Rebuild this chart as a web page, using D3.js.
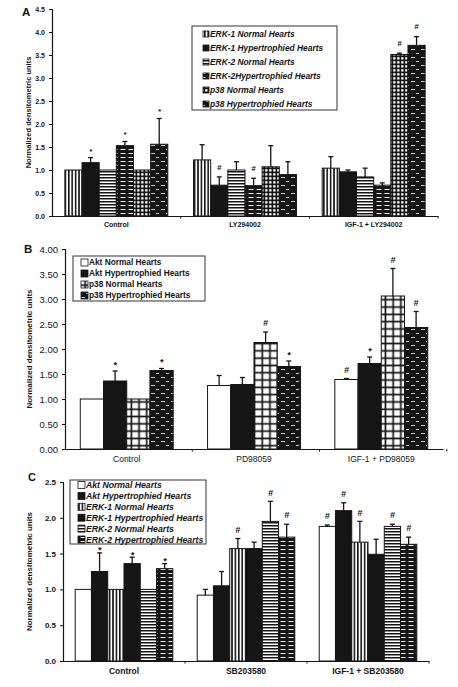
<!DOCTYPE html>
<html><head><meta charset="utf-8">
<script src="https://cdn.jsdelivr.net/npm/d3@7/dist/d3.min.js"></script>
<style>
html,body{margin:0;padding:0;background:#fff;}
svg{display:block;font-family:"Liberation Sans",Arial,sans-serif;}
</style></head>
<body>
<svg id="chart" width="458" height="687"></svg>
<script>
// ---------- Panel A data ----------
const aCategories = ["Control", "LY294002", "IGF-1 + LY294002"];
const aSeries = ["ERK-1 Normal Hearts", "ERK-1 Hypertrophied Hearts", "ERK-2 Normal Hearts", "ERK-2Hypertrophied Hearts", "p38 Normal Hearts", "p38 Hypertrophied Hearts"];
const aValues = [
  [1.00, 1.22, 1.04],
  [1.16, 0.67, 0.96],
  [1.00, 1.00, 0.85],
  [1.53, 0.66, 0.67],
  [1.00, 1.07, 3.51],
  [1.56, 0.90, 3.71]
];
const aErrors = [
  [0.00, 0.33, 0.25],
  [0.11, 0.18, 0.04],
  [0.00, 0.18, 0.19],
  [0.09, 0.16, 0.05],
  [0.00, 0.46, 0.03],
  [0.56, 0.28, 0.19]
];
const aMarks = [
  ["", "", ""],
  ["*", "#", ""],
  ["", "", ""],
  ["*", "#", ""],
  ["", "", "#"],
  ["*", "", "#"]
];
const aTicks = [0, 0.5, 1.0, 1.5, 2.0, 2.5, 3.0, 3.5, 4.0, 4.5];

// ---------- Panel B data ----------
const bCategories = ["Control", "PD98059", "IGF-1 + PD98059"];
const bSeries = ["Akt Normal Hearts", "Akt Hypertrophied Hearts", "p38 Normal Hearts", "p38 Hypertrophied Hearts"];
const bValues = [
  [1.00, 1.27, 1.39],
  [1.36, 1.29, 1.71],
  [1.00, 2.13, 3.06],
  [1.57, 1.65, 2.43]
];
const bErrors = [
  [0.00, 0.20, 0.02],
  [0.20, 0.14, 0.13],
  [0.00, 0.21, 0.55],
  [0.04, 0.11, 0.32]
];
const bMarks = [
  ["", "", "#"],
  ["*", "", "*"],
  ["", "#", "#"],
  ["*", "*", "#"]
];
const bTicks = [0, 0.5, 1.0, 1.5, 2.0, 2.5, 3.0, 3.5, 4.0];

// ---------- Panel C data ----------
const cCategories = ["Control", "SB203580", "IGF-1 + SB203580"];
const cSeries = ["Akt Normal Hearts", "Akt Hypertrophied Hearts", "ERK-1 Normal Hearts", "ERK-1 Hypertrophied Hearts", "ERK-2 Normal Hearts", "ERK-2 Hypertrophied Hearts"];
const cValues = [
  [1.00, 0.92, 1.88],
  [1.25, 1.05, 2.10],
  [1.00, 1.57, 1.66],
  [1.36, 1.57, 1.49],
  [1.00, 1.95, 1.88],
  [1.29, 1.73, 1.63]
];
const cErrors = [
  [0.00, 0.08, 0.02],
  [0.26, 0.20, 0.11],
  [0.00, 0.14, 0.29],
  [0.09, 0.09, 0.21],
  [0.00, 0.28, 0.03],
  [0.07, 0.18, 0.10]
];
const cMarks = [
  ["", "", "#"],
  ["*", "", "#"],
  ["", "#", "#"],
  ["*", "", ""],
  ["", "#", "#"],
  ["*", "#", "#"]
];
const cTicks = [0, 0.5, 1.0, 1.5, 2.0, 2.5];

const yTitle = "Normalized densitometric units";

const svg = d3.select("#chart");
const defs = svg.append("defs");
const INK = "#151515";

// ---------- patterns ----------
function pat(id, w, h, draw) {
  const p = defs.append("pattern").attr("id", id).attr("patternUnits", "userSpaceOnUse")
    .attr("width", w).attr("height", h);
  draw(p);
}
pat("vlines", 3.4, 4, p => {
  p.append("rect").attr("width", 3.4).attr("height", 4).attr("fill", "#fff");
  p.append("rect").attr("x", 0).attr("width", 1.6).attr("height", 4).attr("fill", INK);
});
pat("hlines", 4, 3, p => {
  p.append("rect").attr("width", 4).attr("height", 3).attr("fill", "#fff");
  p.append("rect").attr("y", 0).attr("width", 4).attr("height", 1.5).attr("fill", INK);
});
pat("gridA", 4, 4, p => {
  p.append("rect").attr("width", 4).attr("height", 4).attr("fill", INK);
  p.append("rect").attr("x", 1.2).attr("y", 1.2).attr("width", 2.3).attr("height", 2.3).attr("fill", "#fff");
});
pat("gridB", 7.7, 7.3, p => {
  p.append("rect").attr("width", 7.7).attr("height", 7.3).attr("fill", INK);
  p.append("rect").attr("x", 1.3).attr("y", 1.3).attr("width", 6).attr("height", 5.6).attr("fill", "#fff");
});
pat("dashes", 10, 8, p => {
  p.append("rect").attr("width", 10).attr("height", 8).attr("fill", INK);
  p.append("rect").attr("x", 1).attr("y", 1).attr("width", 4).attr("height", 0.9).attr("fill", "#ddd");
  p.append("rect").attr("x", 6).attr("y", 5).attr("width", 3).attr("height", 0.9).attr("fill", "#ddd");
});
pat("dashes2", 8, 4, p => {
  p.append("rect").attr("width", 8).attr("height", 4).attr("fill", INK);
  p.append("rect").attr("x", 0.5).attr("y", 1).attr("width", 5).attr("height", 1).attr("fill", "#eee");
});

function drawPanel(cfg) {
  const g = svg.append("g");
  const x0 = d3.scaleBand().domain(cfg.categories).range(cfg.xRange).paddingInner(cfg.padIn).paddingOuter(cfg.padOut);
  const x1 = d3.scaleBand().domain(d3.range(cfg.series.length)).range([0, x0.bandwidth()]);
  const y = d3.scaleLinear().domain([0, cfg.ticks[cfg.ticks.length - 1]]).range(cfg.yRange);

  // legend (drawn first so significance marks stay visible)
  const L = cfg.legend;
  g.append("rect").attr("x", L.x).attr("y", L.y).attr("width", L.w).attr("height", L.h)
    .attr("fill", "#fff").attr("stroke", "#333").attr("stroke-width", 1);
  cfg.series.forEach((s, si) => {
    const ly = L.y + L.first + si * L.gap;
    g.append("rect").attr("x", L.x + L.sx).attr("y", ly - L.sw / 2).attr("width", L.sw).attr("height", L.sw)
      .attr("fill", cfg.fills[si]).attr("stroke", INK).attr("stroke-width", 0.8);
    g.append("text").attr("x", L.x + L.sx + L.sw + 1).attr("y", ly).attr("dy", "0.35em")
      .attr("font-size", L.fs).attr("font-weight", "bold").attr("font-style", L.italic ? "italic" : "normal")
      .attr("fill", INK).text(s);
  });

  // bars
  const marks = [];
  cfg.series.forEach((s, si) => {
    cfg.categories.forEach((c, ci) => {
      const v = cfg.values[si][ci];
      const e = cfg.errors[si][ci];
      const bx = x0(c) + x1(si);
      const bw = x1.bandwidth();
      g.append("rect").attr("x", bx).attr("y", y(v)).attr("width", bw).attr("height", y(0) - y(v))
        .attr("fill", cfg.fills[si]).attr("stroke", INK).attr("stroke-width", 1);
      const cx = bx + bw / 2;
      if (e > 0) {
        g.append("line").attr("x1", cx).attr("x2", cx).attr("y1", y(v)).attr("y2", y(v + e))
          .attr("stroke", INK).attr("stroke-width", 1.3);
        g.append("line").attr("x1", cx - 2.5).attr("x2", cx + 2.5).attr("y1", y(v + e)).attr("y2", y(v + e))
          .attr("stroke", INK).attr("stroke-width", 1.3);
      }
      const m = cfg.marks[si][ci];
      if (m) marks.push({m, cx, top: y(v + e)});
    });
  });
  marks.forEach(d => {
    const gap = d.m === "*" ? cfg.starGap : cfg.hashGap;
    const k = d.m === "*" ? 0.62 : 0.36;
    g.append("text").attr("x", d.cx).attr("y", d.top - gap + k * cfg.markSize).attr("text-anchor", "middle")
      .attr("font-size", cfg.markSize).attr("font-weight", "bold").attr("font-style", "italic")
      .attr("fill", INK).text(d.m);
  });

  // y axis
  const yAx = g.append("g").attr("transform", `translate(${cfg.xRange[0]},0)`)
    .call(d3.axisLeft(y).tickValues(cfg.ticks).tickFormat(d3.format(cfg.fmt)).tickSize(3).tickPadding(4));
  yAx.select(".domain").attr("stroke", INK).attr("stroke-width", 1.2);
  yAx.selectAll(".tick line").attr("stroke", INK);
  yAx.selectAll("text").attr("font-size", cfg.tickSize).attr("font-weight", cfg.tickWeight)
    .attr("font-family", "'Liberation Sans',Arial,sans-serif").attr("fill", INK);

  // x axis
  const xAx = g.append("g").attr("transform", `translate(0,${cfg.yRange[0]})`)
    .call(d3.axisBottom(x0).tickSize(0).tickPadding(cfg.xLabelPad));
  xAx.select(".domain").attr("stroke", INK).attr("stroke-width", 1.2);
  xAx.selectAll("text").attr("font-size", cfg.xLabelSize).attr("font-weight", cfg.xLabelWeight)
    .attr("font-family", "'Liberation Sans',Arial,sans-serif").attr("fill", INK);
  const step = x0.step();
  [1, 2, 3].forEach(i => {
    const sx = cfg.xRange[0] + step * i;
    g.append("line").attr("x1", sx).attr("x2", sx).attr("y1", cfg.yRange[0]).attr("y2", cfg.yRange[0] + 2.5)
      .attr("stroke", INK);
  });

  // y title
  g.append("text").attr("transform", `translate(${cfg.titleX},${(cfg.yRange[0] + cfg.yRange[1]) / 2}) rotate(-90)`)
    .attr("text-anchor", "middle").attr("font-size", cfg.titleSize).attr("font-weight", "bold").attr("fill", INK)
    .text(yTitle);

  // panel letter
  g.append("text").attr("x", cfg.letterPos[0]).attr("y", cfg.letterPos[1]).attr("font-size", cfg.letterSize)
    .attr("font-weight", "bold").attr("fill", INK).text(cfg.letter);
}

drawPanel({
  categories: aCategories, series: aSeries, values: aValues, errors: aErrors, marks: aMarks, ticks: aTicks,
  fills: ["url(#vlines)", INK, "url(#hlines)", "url(#dashes2)", "url(#gridA)", "url(#dashes)"],
  xRange: [52, 438], yRange: [216, 9], padIn: 0.2, padOut: 0.1,
  fmt: ".1f", tickSize: 7, tickWeight: "bold", xLabelSize: 7, xLabelPad: 6, xLabelWeight: "bold",
  titleX: 31, titleSize: 7.5, markSize: 8, starGap: 9, hashGap: 10,
  letter: "A", letterPos: [22, 15.5], letterSize: 11.5,
  legend: {x: 192, y: 26, w: 145, h: 84, first: 8, gap: 14, sx: 11, sw: 6, fs: 8.4, italic: true}
});

drawPanel({
  categories: bCategories, series: bSeries, values: bValues, errors: bErrors, marks: bMarks, ticks: bTicks,
  fills: ["#fff", INK, "url(#gridB)", "url(#dashes)"],
  xRange: [65, 443], yRange: [449, 249], padIn: 0.27, padOut: 0.12,
  fmt: ".2f", tickSize: 9.5, tickWeight: "normal", xLabelSize: 8.5, xLabelPad: 7, xLabelWeight: "normal",
  titleX: 32, titleSize: 8, markSize: 9, starGap: 9, hashGap: 9,
  letter: "B", letterPos: [24, 252.5], letterSize: 11.5,
  legend: {x: 73, y: 256, w: 132, h: 45, first: 6.5, gap: 11, sx: 8, sw: 7, fs: 8.3, italic: false}
});

drawPanel({
  categories: cCategories, series: cSeries, values: cValues, errors: cErrors, marks: cMarks, ticks: cTicks,
  fills: ["#fff", INK, "url(#vlines)", INK, "url(#hlines)", "url(#dashes2)"],
  xRange: [63, 429], yRange: [661, 482], padIn: 0.2, padOut: 0.1,
  fmt: ".1f", tickSize: 8, tickWeight: "bold", xLabelSize: 8.5, xLabelPad: 7, xLabelWeight: "bold",
  titleX: 32, titleSize: 8, markSize: 9, starGap: 5, hashGap: 9,
  letter: "C", letterPos: [28, 480.5], letterSize: 11,
  legend: {x: 70, y: 480, w: 136, h: 64, first: 5, gap: 10.9, sx: 8, sw: 7, fs: 8.7, italic: true}
});
</script>
</body></html>
